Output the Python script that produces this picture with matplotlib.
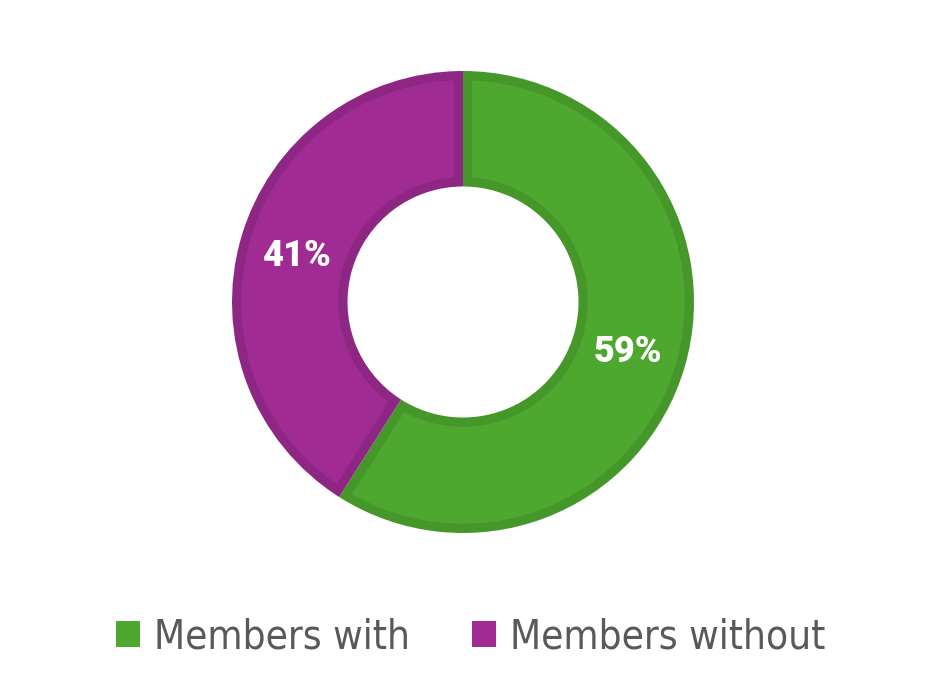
import matplotlib
matplotlib.use("Agg")
import matplotlib.pyplot as plt
from matplotlib.patches import Patch, Polygon
import numpy as np

labels = ["Members with", "Members without"]
shares = [59, 41]
fill_colors = ["#4EA72E", "#A02B93"]
edge_colors = ["#46972A", "#8E2683"]

fig = plt.figure(figsize=(9.3, 6.98), dpi=100)
W, H = 930, 698
# square axes around the donut (pixels: x 232..694, y 71..533 from top)
ax = fig.add_axes([232 / W, (H - 533) / H, 462 / W, 462 / H])

# darker ring = border colour
wedges, _ = ax.pie(
    shares,
    colors=edge_colors,
    startangle=90,
    counterclock=False,
    radius=1.0,
    wedgeprops=dict(width=0.5, linewidth=0),
)

# lighter fill inset by a constant border width inside each wedge
b = 0.04
for w, fc in zip(wedges, fill_colors):
    R, r = w.r, w.r - w.width
    t1, t2 = np.deg2rad(w.theta1), np.deg2rad(w.theta2)
    ro, ri = R - b, r + b
    ao1, ao2 = t1 + np.arcsin(b / ro), t2 - np.arcsin(b / ro)
    ai1, ai2 = t1 + np.arcsin(b / ri), t2 - np.arcsin(b / ri)
    outer = np.linspace(ao1, ao2, 200)
    inner = np.linspace(ai2, ai1, 200)
    pts = np.vstack([
        np.column_stack([ro * np.cos(outer), ro * np.sin(outer)]),
        np.column_stack([ri * np.cos(inner), ri * np.sin(inner)]),
    ])
    ax.add_patch(Polygon(pts, closed=True, facecolor=fc, edgecolor="none"))

ax.set_xlim(-1, 1)
ax.set_ylim(-1, 1)
ax.set_aspect("equal")
ax.axis("off")

# percentage labels at the middle of the ring
for share, w in zip(shares, wedges):
    mid = np.deg2rad((w.theta1 + w.theta2) / 2)
    r = 0.745
    ax.text(r * np.cos(mid), r * np.sin(mid) - 0.01, f"{share}%", ha="center", va="center",
            color="white", fontsize=26, fontweight="heavy", family=["Roboto", "DejaVu Sans"])

handles = [Patch(facecolor=c, edgecolor="none") for c in fill_colors]
fig.legend(
    handles, labels,
    loc="center", bbox_to_anchor=(0.506, 0.087), ncol=2, frameon=False,
    prop=dict(family="DejaVu Sans", stretch="condensed", size=29),
    labelcolor="#595959",
    handlelength=0.6, handleheight=0.6, handletextpad=0.33, columnspacing=1.55,
)

fig.savefig("out.png", dpi=100, facecolor="white")
